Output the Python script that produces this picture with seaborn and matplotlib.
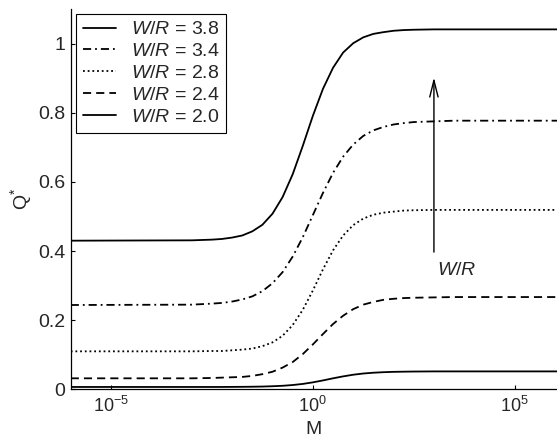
import numpy as np
import matplotlib
matplotlib.use('Agg')
import matplotlib.pyplot as plt
import seaborn as sns

log_m = [-6, -3, -2.5, -2.25, -2, -1.75, -1.5, -1.25, -1, -0.75, -0.5, -0.25,
         0, 0.25, 0.5, 0.75, 1, 1.25, 1.5, 1.75, 2, 2.25, 2.5, 3, 3.5, 4, 6.2]

q_38 = [0.430, 0.431, 0.433, 0.435, 0.439, 0.445, 0.457, 0.476, 0.508, 0.556, 0.622, 0.704,
        0.791, 0.869, 0.930, 0.974, 1.001, 1.018, 1.028, 1.033, 1.037, 1.039, 1.040, 1.041,
        1.041, 1.041, 1.041]
q_34 = [0.244, 0.245, 0.248, 0.250, 0.254, 0.260, 0.269, 0.284, 0.307, 0.339, 0.384, 0.440,
        0.504, 0.568, 0.626, 0.673, 0.708, 0.733, 0.749, 0.759, 0.766, 0.770, 0.773, 0.775,
        0.777, 0.777, 0.777]
q_28 = [0.110, 0.110, 0.111, 0.111, 0.113, 0.115, 0.118, 0.125, 0.136, 0.155, 0.186, 0.230,
        0.286, 0.347, 0.402, 0.445, 0.475, 0.494, 0.505, 0.511, 0.514, 0.517, 0.518, 0.519,
        0.519, 0.519, 0.519]
q_24 = [0.032, 0.032, 0.033, 0.034, 0.035, 0.036, 0.039, 0.044, 0.051, 0.063, 0.079, 0.102,
        0.130, 0.160, 0.189, 0.213, 0.232, 0.245, 0.253, 0.259, 0.262, 0.264, 0.265, 0.266,
        0.267, 0.267, 0.267]
q_20 = [0.007, 0.007, 0.007, 0.007, 0.0072, 0.0074, 0.0077, 0.0082, 0.0091, 0.0104, 0.0126, 0.0158,
        0.0203, 0.0259, 0.0320, 0.0376, 0.0424, 0.0459, 0.0482, 0.0497, 0.0507, 0.0512, 0.0516, 0.052,
        0.052, 0.052, 0.052]

wr_values = ['3.8', '3.4', '2.8', '2.4', '2.0']
x_ticks = [1e-5, 1e0, 1e5]
y_ticks = [0, 0.2, 0.4, 0.6, 0.8, 1.0]
y_tick_labels = ['0', '0.2', '0.4', '0.6', '0.8', '1']

# arrow showing increasing W/R
arrow_m = 1e3
arrow_q = (0.397, 0.902)
arrow_label_pos = (10 ** 3.08, 0.345)

sns.set_style('ticks', {'xtick.direction': 'in', 'ytick.direction': 'in',
                        'axes.edgecolor': 'black'})
plt.rcParams['font.family'] = ['Liberation Sans', 'DejaVu Sans']
plt.rcParams['mathtext.fontset'] = 'custom'
plt.rcParams['mathtext.rm'] = 'Liberation Sans'
plt.rcParams['mathtext.it'] = 'Liberation Sans:italic'

m = 10.0 ** np.array(log_m)
curves = [q_38, q_34, q_28, q_24, q_20]
line_styles = ['-', (0, (4.5, 2.2, 1, 2.2)), (0, (1, 1.6)), (0, (4.5, 2.8)), '-']

fig = plt.figure(figsize=(5.57, 4.38), dpi=100)
ax = fig.add_axes([0.127, 0.111, 0.873, 0.8685])

for q, wr, ls in zip(curves, wr_values, line_styles):
    sns.lineplot(x=m, y=q, ax=ax, color='black', lw=1.3, linestyle=ls,
                 label=r'$\mathit{W/R}$ = ' + wr)

ax.set_xscale('log')
ax.set_xlim(1e-6, 10 ** 6.05)
ax.set_ylim(0, 1.1)
ax.set_xticks(x_ticks)
ax.xaxis.set_minor_locator(matplotlib.ticker.NullLocator())
ax.set_yticks(y_ticks)
ax.set_yticklabels(y_tick_labels)
ax.tick_params(axis='both', length=3, width=0.8, color='black')
ax.tick_params(axis='y', labelsize=14, pad=4)
ax.tick_params(axis='x', labelsize=13, pad=5)
sns.despine(ax=ax)
for sp in ['left', 'bottom']:
    ax.spines[sp].set_linewidth(0.9)

ax.set_xlabel('M', fontsize=14)
ax.xaxis.set_label_coords(0.5, -0.082)
ax.set_ylabel(r'$\mathrm{Q}^{*}$', fontsize=14)
ax.yaxis.set_label_coords(-0.075, 0.5)

ax.annotate('', xy=(arrow_m, arrow_q[1]), xytext=(arrow_m, arrow_q[0]),
            arrowprops=dict(arrowstyle='->,head_length=1.2,head_width=0.3',
                            color='black', lw=1, mutation_scale=10,
                            shrinkA=0, shrinkB=0))
ax.text(arrow_label_pos[0], arrow_label_pos[1], r'$\mathit{W/R}$',
        fontsize=14, ha='left', va='center')

leg = ax.legend(loc='upper left', bbox_to_anchor=(0.011, 0.987), borderaxespad=0,
                fontsize=14, frameon=True, fancybox=False, framealpha=1,
                edgecolor='black', handlelength=1.7, handletextpad=0.75,
                labelspacing=0.22, borderpad=0.35)
leg.get_frame().set_linewidth(0.8)

fig.savefig('out.png', dpi=100)
